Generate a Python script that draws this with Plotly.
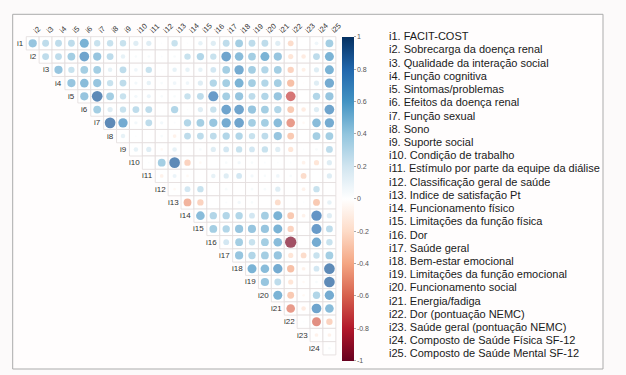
import plotly.graph_objects as go

# ---------------- data ----------------
var_codes = ["i1", "i2", "i3", "i4", "i5", "i6", "i7", "i8", "i9", "i10", "i11", "i12", "i13",
             "i14", "i15", "i16", "i17", "i18", "i19", "i20", "i21", "i22", "i23", "i24", "i25"]

var_names = [
    "FACIT-COST",
    "Sobrecarga da doença renal",
    "Qualidade da interação social",
    "Função cognitiva",
    "Sintomas/problemas",
    "Efeitos da doença renal",
    "Função sexual",
    "Sono",
    "Suporte social",
    "Condição de trabalho",
    "Estímulo por parte da equipe da diálise",
    "Classificação geral de saúde",
    "Indice de satisfação Pt",
    "Funcionamento físico",
    "Limitações da função física",
    "Dor",
    "Saúde geral",
    "Bem-estar emocional",
    "Limitações da função emocional",
    "Funcionamento social",
    "Energia/fadiga",
    "Dor (pontuação NEMC)",
    "Saúde geral (pontuação NEMC)",
    "Composto de Saúde Física SF-12",
    "Composto de Saúde Mental SF-12",
]

# upper-triangle correlations: row iK holds columns i(K+1) .. i25
r1 = [0.50, 0.35, 0.35, 0.35, 0.60, 0.30, 0.30, 0.30, 0.20, 0.20, 0.02, 0.30,
      0.02, 0.15, 0.20, 0.35, 0.45, 0.35, 0.35, 0.20, -0.25, 0.00, 0.10, 0.45]
r2 = [0.35, 0.35, 0.45, 0.70, 0.50, 0.35, 0.15, 0.05, 0.05, 0.03, 0.05,
      0.30, 0.40, 0.30, 0.70, 0.55, 0.45, 0.60, 0.50, -0.20, -0.15, 0.35, 0.60]
r3 = [0.50, 0.30, 0.45, 0.45, 0.15, 0.35, 0.10, 0.30, 0.02, 0.15,
      0.15, 0.15, 0.25, 0.45, 0.65, 0.45, 0.40, 0.45, -0.30, -0.12, 0.20, 0.60]
r4 = [0.50, 0.55, 0.50, 0.30, 0.35, 0.08, 0.15, 0.05, 0.10,
      0.10, 0.20, 0.40, 0.45, 0.60, 0.45, 0.40, 0.45, -0.40, -0.02, 0.20, 0.65]
r5 = [0.50, 0.85, 0.45, 0.30, 0.08, 0.12, 0.05, 0.05,
      0.30, 0.35, 0.75, 0.45, 0.50, 0.35, 0.40, 0.50, -0.70, 0.00, 0.40, 0.50]
r6 = [0.45, 0.20, 0.30, 0.35, 0.35, 0.00, 0.40,
      0.02, 0.20, 0.30, 0.70, 0.70, 0.50, 0.45, 0.40, -0.35, -0.15, 0.20, 0.70]
r7 = [0.85, 0.65, 0.08, 0.35, 0.08, 0.03,
      0.40, 0.45, 0.50, 0.65, 0.70, 0.45, 0.45, 0.55, -0.55, -0.05, 0.55, 0.65]
r8 = [0.15, 0.02, 0.00, 0.05, -0.10,
      0.35, 0.35, 0.35, 0.40, 0.40, 0.30, 0.35, 0.50, -0.35, 0.00, 0.45, 0.45]
r9 = [0.15, 0.20, -0.05, 0.15,
      0.00, 0.05, 0.20, 0.25, 0.30, 0.25, 0.30, 0.20, -0.20, 0.02, 0.05, 0.35]
r10 = [0.02, 0.45, 0.85,
       -0.30, -0.05, 0.00, 0.05, 0.08, 0.05, 0.03, 0.02, 0.02, -0.10, -0.20, 0.20]
r11 = [-0.10, 0.12,
       -0.05, 0.00, 0.15, 0.20, 0.25, 0.08, 0.05, 0.10, 0.05, -0.25, 0.00, 0.20]
r12 = [-0.05,
       0.25, 0.30, 0.00, 0.05, 0.00, 0.05, 0.05, 0.20, 0.00, -0.10, 0.30, 0.00]
r13 = [-0.45, -0.30, 0.00, 0.03, 0.08, 0.05, 0.00, -0.25, 0.00, 0.02, -0.35, 0.15]
r14 = [0.55, 0.40, 0.40, 0.40, 0.25, 0.45, 0.60, -0.35, -0.10, 0.80, 0.20]
r15 = [0.45, 0.40, 0.50, 0.50, 0.50, 0.60, -0.30, 0.00, 0.75, 0.35]
r16 = [0.25, 0.45, 0.30, 0.45, 0.55, -0.95, 0.00, 0.65, 0.30]
r17 = [0.50, 0.40, 0.45, 0.50, -0.20, -0.25, 0.30, 0.45]
r18 = [0.60, 0.55, 0.65, -0.40, -0.10, 0.25, 0.85]
r19 = [0.50, 0.35, -0.20, -0.05, 0.05, 0.85]
r20 = [0.60, -0.35, -0.05, 0.40, 0.65]
r21 = [-0.55, -0.15, 0.70, 0.55]
r22 = [0.02, -0.60, -0.30]
r23 = [-0.10, -0.10]
r24 = [0.05]

corr_rows = [r1, r2, r3, r4, r5, r6, r7, r8, r9, r10, r11, r12, r13, r14, r15, r16,
             r17, r18, r19, r20, r21, r22, r23, r24]

cbar_ticks = [1, 0.8, 0.6, 0.4, 0.2, 0, -0.2, -0.4, -0.6, -0.8, -1]
cbar_tick_text = ["1", "0.8", "0.6", "0.4", "0.2", "0", "-0.2", "-0.4", "-0.6", "-0.8", "-1"]

# ---------------- geometry / style ----------------
W, H = 626, 375
CELL_W, CELL_H = 12.9, 13.26
X0_PX, Y0_PX = 32.7, 43.3          # centre of first cell (row i1, col i2)
FONT = "Liberation Sans, Arial, sans-serif"

x_lo = 2 - X0_PX / CELL_W
x_hi = x_lo + W / CELL_W
y_lo = 1 - Y0_PX / CELL_H
y_hi = y_lo + H / CELL_H

rdbu = ["#67001F", "#B2182B", "#D6604D", "#F4A582", "#FDDBC7", "#FFFFFF",
        "#D1E5F0", "#92C5DE", "#4393C3", "#2166AC", "#053061"]
colorscale = [[k / 10, c] for k, c in enumerate(rdbu)]

xs, ys, vals, sizes = [], [], [], []
for r, row in enumerate(corr_rows, start=1):
    for j, v in enumerate(row):
        c = r + 1 + j
        xs.append(c)
        ys.append(r)
        vals.append(v)
        sizes.append(0.9 * CELL_W * abs(v) ** 0.5)

fig = go.Figure()

fig.add_trace(go.Scatter(
    x=xs, y=ys, mode="markers",
    marker=dict(
        size=sizes, color=vals, cmin=-1, cmax=1, colorscale=colorscale,
        line=dict(width=0),
        showscale=True,
        colorbar=dict(
            x=341.7 / W, xanchor="left", xpad=0,
            y=1 - 36.7 / H, yanchor="top", ypad=0,
            len=(360.5 - 36.7) / H, lenmode="fraction",
            thickness=11.6, thicknessmode="pixels",
            outlinewidth=0,
            tickvals=cbar_ticks, ticktext=cbar_tick_text,
            ticks="outside", ticklen=2, tickcolor="#aaaaaa",
            tickfont=dict(family=FONT, size=7, color="#555555"),
        ),
    ),
    hoverinfo="skip", showlegend=False,
))

shapes = []
# outer frame
shapes.append(dict(type="rect", xref="paper", yref="paper",
                   x0=12.7 / W, x1=603 / W, y0=1 - 369 / H, y1=1 - 14.3 / H,
                   line=dict(color="#ababab", width=1), fillcolor="#fffdfd", layer="below"))
# grid cells
for r, row in enumerate(corr_rows, start=1):
    for j, v in enumerate(row):
        c = r + 1 + j
        shapes.append(dict(type="rect", xref="x", yref="y",
                           x0=c - 0.5, x1=c + 0.5, y0=r - 0.5, y1=r + 0.5,
                           line=dict(color="#e2dcdc", width=0.8),
                           fillcolor="#ffffff", layer="below"))

annotations = []
# row labels
for r in range(1, 25):
    annotations.append(dict(x=r + 0.5, y=r, xref="x", yref="y", text=var_codes[r - 1],
                            showarrow=False, xanchor="right", yanchor="middle",
                            xshift=-1.5, borderpad=0,
                            font=dict(family=FONT, size=8, color="#333333")))
# column labels (rotated)
for c in range(2, 26):
    annotations.append(dict(x=c, y=0.5, xref="x", yref="y", text=var_codes[c - 1],
                            showarrow=False, xanchor="left", yanchor="bottom",
                            textangle=-45, xshift=-2, yshift=0.5, borderpad=0,
                            font=dict(family=FONT, size=7.5, color="#333333")))
# descriptive legend on right
for k, (code, name) in enumerate(zip(var_codes, var_names)):
    ypx = 36.2 + k * 13.22
    annotations.append(dict(x=387.5 / W, y=1 - ypx / H, xref="paper", yref="paper",
                            text=f"{code}. {name}", showarrow=False,
                            xanchor="left", yanchor="middle", borderpad=0,
                            font=dict(family=FONT, size=11, color="#1a1a1a")))

fig.update_layout(
    width=W, height=H,
    margin=dict(l=0, r=0, t=0, b=0),
    paper_bgcolor="#fcfafa",
    plot_bgcolor="rgba(0,0,0,0)",
    xaxis=dict(range=[x_lo, x_hi], visible=False, fixedrange=True),
    yaxis=dict(range=[y_hi, y_lo], visible=False, fixedrange=True),
    shapes=shapes,
    annotations=annotations,
    hovermode=False,
)

fig.write_html("out.html",
               config={"displayModeBar": False, "staticPlot": True},
               post_script="document.body.style.margin='0px';document.body.style.overflow='hidden';")
